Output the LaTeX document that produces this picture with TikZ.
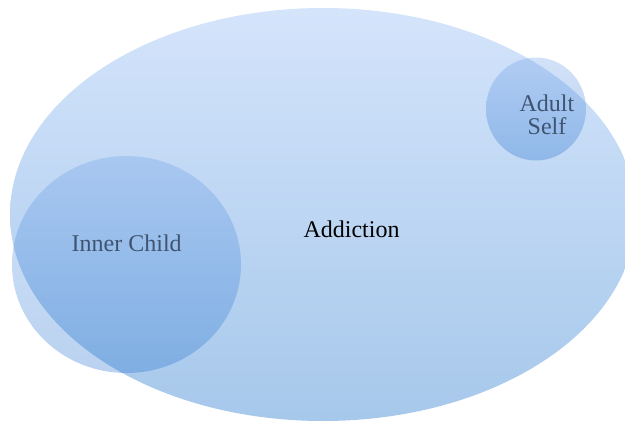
\documentclass[tikz,border=0pt]{standalone}
\usepackage{fontspec}
\setmainfont{Liberation Serif}
\usetikzlibrary{shapes.geometric}
\definecolor{bigtop}{RGB}{212,228,251}
\definecolor{bigbot}{RGB}{166,200,235}
\definecolor{smtop}{RGB}{110,160,232}
\definecolor{smbot}{RGB}{30,110,205}
\definecolor{labelgray}{RGB}{63,84,112}
\tikzset{
  bigblob/.style={ellipse, draw=none, inner sep=0pt, top color=bigtop, bottom color=bigbot},
  smallblob/.style={ellipse, draw=none, inner sep=0pt, top color=smtop, bottom color=smbot, fill opacity=0.31},
  lbl/.style={font=\fontsize{24}{23}\selectfont, align=center, inner sep=0pt}
}
\begin{document}
\begin{tikzpicture}[x=1pt,y=-1pt]
\useasboundingbox (0,0) rectangle (625,423);
\node[bigblob, minimum width=626pt, minimum height=413pt] (addiction) at (323,214.5) {};
\node[smallblob, minimum width=229pt, minimum height=217pt] (innerchild) at (126.5,264.5) {};
\node[smallblob, minimum width=100pt, minimum height=103pt] (adultself) at (536,109) {};
\node[lbl, text=black, anchor=base] (addictionlbl) at (351.5,237) {Addiction};
\node[lbl, text=labelgray, anchor=base] (innerchildlbl) at (126.7,251.5) {Inner Child};
\node[lbl, text=labelgray, anchor=base] (adultselflbl) at (547,134.3) {Adult\\Self};
\end{tikzpicture}
\end{document}
